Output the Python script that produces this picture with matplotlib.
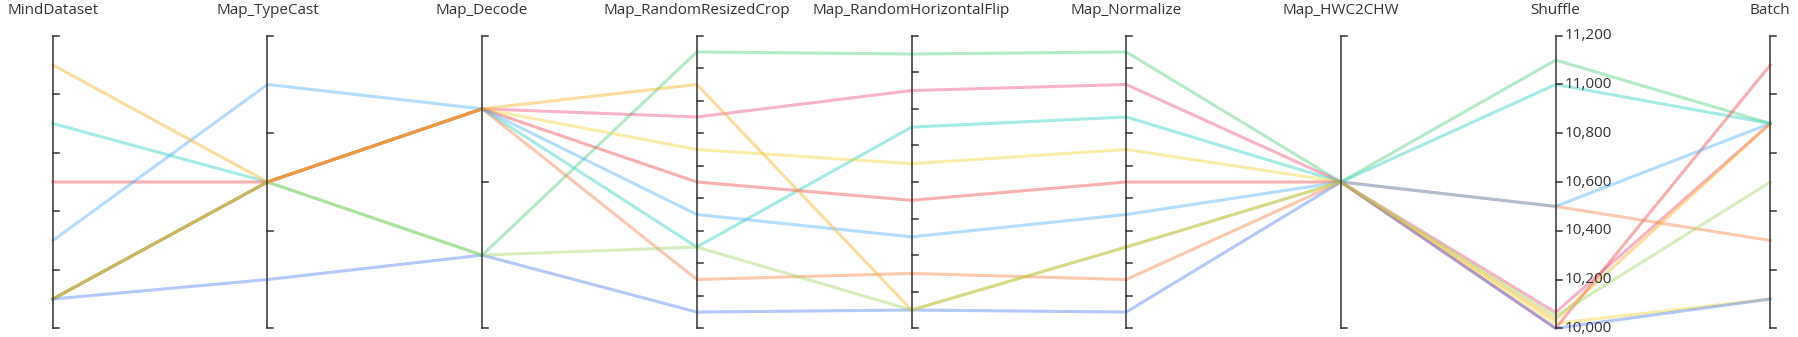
import matplotlib
matplotlib.use("Agg")
import matplotlib.pyplot as plt

plt.rcParams["font.family"] = ["Open Sans", "DejaVu Sans"]

# pipeline ops shown as parallel axes
dimensions = ["MindDataset", "Map_TypeCast", "Map_Decode", "Map_RandomResizedCrop",
              "Map_RandomHorizontalFlip", "Map_Normalize", "Map_HWC2CHW", "Shuffle", "Batch"]

# category levels (num_parallel_workers), bottom to top
mind_levels = [1, 2, 4, 6, 8]
typecast_levels = [1, 2, 4]
decode_levels = [4, 8]
crop_levels = [1, 2, 3, 4, 5, 6, 7, 8, 9]
flip_levels = [1, 2, 3, 4, 5, 6, 7, 8]
normalize_levels = [1, 2, 3, 4, 5, 6, 7, 8, 9]
hwc_levels = [1]
batch_levels = [1, 2, 4, 8, 16]
# Shuffle is a value axis (buffer size)
shuffle_min, shuffle_max = 10000, 11200
shuffle_ticks = [10000, 10200, 10400, 10600, 10800, 11000, 11200]

# one line per trial (drawn in this order)
series_colors = ["#4ccf7c", "#ee4c7c", "#29cfbf", "#f3d635", "#ee4141",
                 "#f87c41", "#4cacf8", "#4c7cf3", "#fab01d", "#a0d664"]
mind = [1, 1, 6, 1, 4, 1, 2, 1, 8, 1]
typecast = [2, 2, 2, 2, 2, 2, 4, 1, 2, 2]
decode = [4, 8, 8, 8, 8, 8, 8, 4, 8, 4]
crop = [9, 7, 3, 6, 5, 2, 4, 1, 8, 3]
flip = [8, 7, 6, 5, 4, 2, 3, 1, 1, 1]
normalize = [9, 8, 7, 6, 5, 2, 4, 1, 3, 3]
hwc = [1, 1, 1, 1, 1, 1, 1, 1, 1, 1]
shuffle = [11100, 10065, 11000, 10020, 10000, 10500, 10500, 10000, 10035, 10050]
batch = [8, 8, 8, 1, 16, 2, 8, 1, 8, 4]

columns = [mind, typecast, decode, crop, flip, normalize, hwc, shuffle, batch]
levels = [mind_levels, typecast_levels, decode_levels, crop_levels, flip_levels,
          normalize_levels, hwc_levels, None, batch_levels]


def to_axis(v, lv):
    if lv is None:
        return (v - shuffle_min) / (shuffle_max - shuffle_min)
    return (lv.index(v) + 0.5) / len(lv)


W, H = 1799, 337
fig = plt.figure(figsize=(W / 100, H / 100), dpi=100)
x0, x1 = 52.8, 1770.3
y_top, y_bot = 35.7, 328.3
ax = fig.add_axes([x0 / W, (H - y_bot) / H, (x1 - x0) / W, (y_bot - y_top) / H])
ax.set_xlim(0, len(dimensions) - 1)
ax.set_ylim(0, 1)
ax.axis("off")

n = len(series_colors)
for s in range(n):
    ys = [to_axis(columns[d][s], levels[d]) for d in range(len(dimensions))]
    ax.plot(range(len(dimensions)), ys, color=series_colors[s], alpha=0.42,
            lw=2.2, solid_joinstyle="round", zorder=2, clip_on=False)

axis_color = "#333333"
tick_len = 6 / ((x1 - x0) / (len(dimensions) - 1))
for d, name in enumerate(dimensions):
    ax.plot([d, d], [0, 1], color=axis_color, lw=1.1, zorder=3, clip_on=False)
    lv = levels[d]
    if lv is None:
        tick_pos = [to_axis(t, None) for t in shuffle_ticks]
        for t, p in zip(shuffle_ticks, tick_pos):
            ax.text(d + tick_len * 1.5, p, f"{t:,}", ha="left", va="center",
                    fontsize=11, color=axis_color)
    else:
        tick_pos = [k / len(lv) for k in range(len(lv) + 1)]
    for p in tick_pos:
        ax.plot([d, d + tick_len], [p, p], color=axis_color, lw=1.1, zorder=3,
                clip_on=False)
    fig.text((x0 + d * (x1 - x0) / (len(dimensions) - 1)) / W, (H - 10.5) / H, name,
             ha="center", va="center", fontsize=11, color=axis_color)

fig.savefig("out.png", dpi=100, facecolor="white")
